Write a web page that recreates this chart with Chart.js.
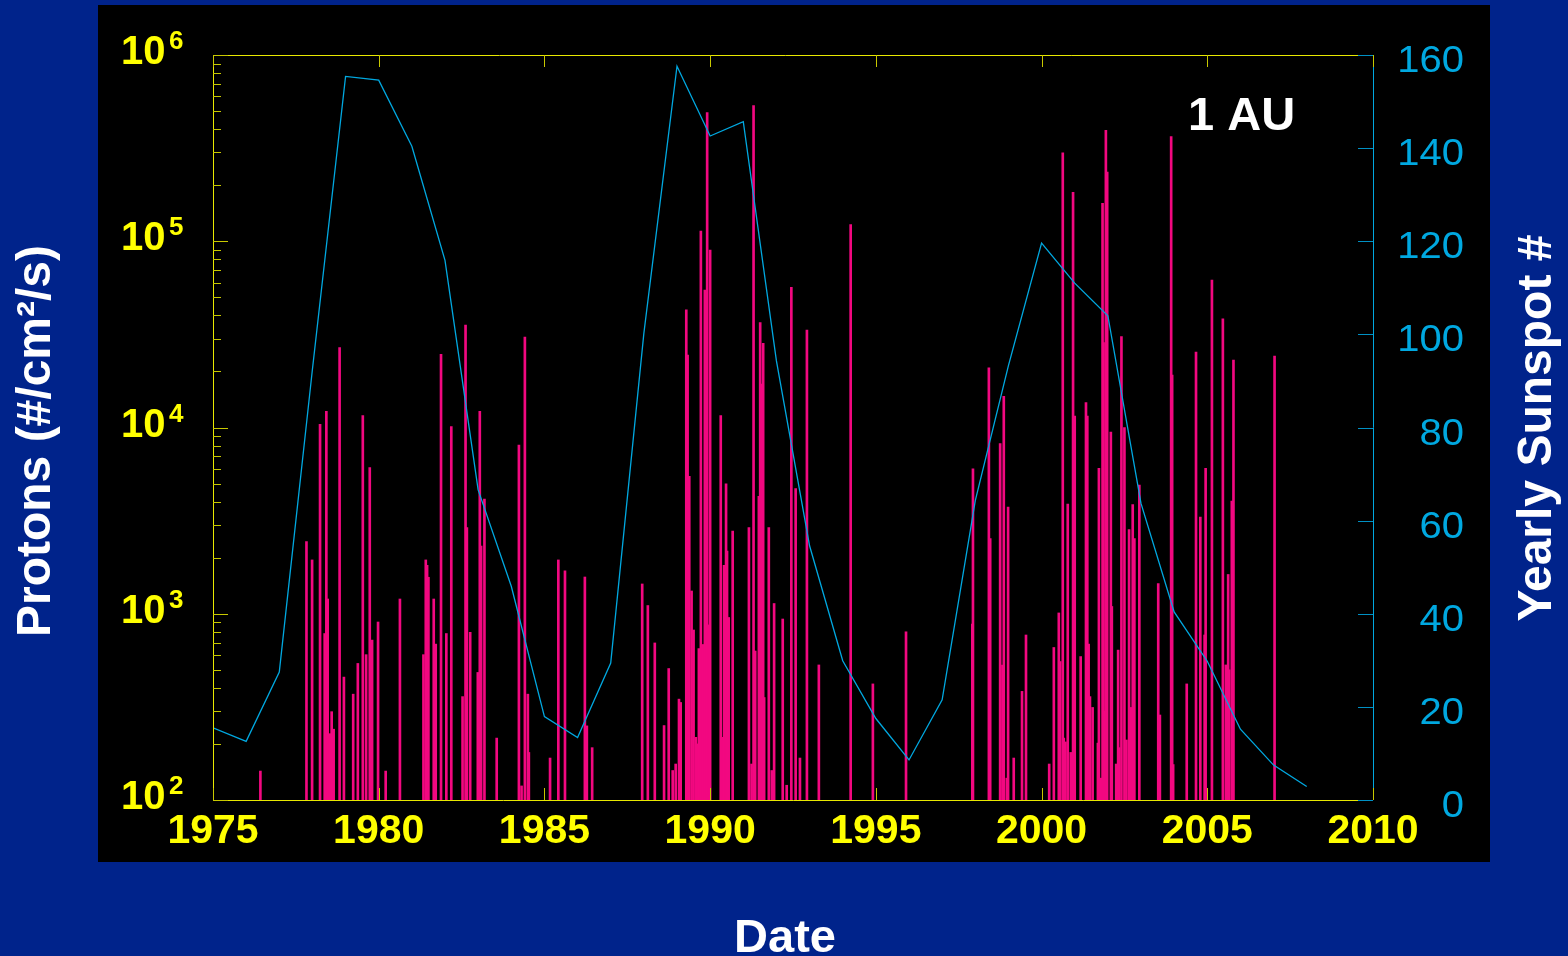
<!DOCTYPE html>
<html>
<head>
<meta charset="utf-8">
<title>Protons and yearly sunspot number at 1 AU</title>
<script src="https://cdn.jsdelivr.net/npm/chart.js@4.4.0/dist/chart.umd.min.js"></script>
<style>
  html, body { margin: 0; padding: 0; background: #00238b; }
  canvas { display: block; }
</style>
</head>
<body>
<canvas id="sepChart" width="1568" height="956"></canvas>
<script>
// axis ticks
const yearTicks = [1975, 1980, 1985, 1990, 1995, 2000, 2005, 2010];
const fluxDecades = [2, 3, 4, 5, 6];
const sunspotTicks = [0, 20, 40, 60, 80, 100, 120, 140, 160];

// yearly sunspot number (cyan line)
const sunspotYears = [1975, 1976, 1977, 1978, 1979, 1980, 1981, 1982, 1983, 1984,
    1985, 1986, 1987, 1988, 1989, 1990, 1991, 1992, 1993, 1994,
    1995, 1996, 1997, 1998, 1999, 2000, 2001, 2002, 2003, 2004,
    2005, 2006, 2007, 2008];
const sunspotNumbers = [15.5, 12.6, 27.5, 92.5, 155.4, 154.6, 140.4, 115.9, 66.6, 45.9,
    17.9, 13.4, 29.4, 100.2, 157.6, 142.6, 145.7, 94.3, 54.6, 29.9,
    17.5, 8.6, 21.5, 64.3, 93.3, 119.6, 111.0, 104.0, 63.7, 40.4,
    29.8, 15.2, 7.5, 2.9];

// proton events (pink spikes): date and peak flux
const eventDates = [1976.43, 1977.82, 1977.99, 1978.23, 1978.37, 1978.42, 1978.46, 1978.52, 1978.58, 1978.64,
    1978.82, 1978.95, 1979.23, 1979.37, 1979.52, 1979.62, 1979.73, 1979.80, 1979.98, 1980.21,
    1980.64, 1981.35, 1981.42, 1981.46, 1981.50, 1981.66, 1981.72, 1981.88, 1982.04, 1982.19,
    1982.53, 1982.62, 1982.66, 1982.76, 1982.99, 1983.05, 1983.09, 1983.19, 1983.56, 1984.23,
    1984.31, 1984.41, 1984.50, 1984.53, 1985.17, 1985.42, 1985.62, 1986.22, 1986.28, 1986.44,
    1987.95, 1988.12, 1988.33, 1988.61, 1988.75, 1988.87, 1988.96, 1989.06, 1989.11, 1989.28,
    1989.32, 1989.37, 1989.44, 1989.50, 1989.57, 1989.61, 1989.66, 1989.72, 1989.78, 1989.84,
    1989.91, 1989.96, 1990.00, 1990.32, 1990.37, 1990.42, 1990.48, 1990.51, 1990.56, 1990.68,
    1991.17, 1991.25, 1991.31, 1991.36, 1991.47, 1991.51, 1991.56, 1991.60, 1991.63, 1991.77,
    1991.86, 1991.93, 1992.19, 1992.31, 1992.45, 1992.58, 1992.71, 1992.92, 1993.28, 1994.24,
    1994.91, 1995.91, 1997.91, 1997.93, 1998.41, 1998.45, 1998.75, 1998.82, 1998.86, 1998.95,
    1998.99, 1999.16, 1999.41, 1999.53, 2000.23, 2000.37, 2000.52, 2000.56, 2000.64, 2000.67,
    2000.72, 2000.79, 2000.88, 2000.95, 2001.00, 2001.18, 2001.34, 2001.38, 2001.42, 2001.46,
    2001.54, 2001.70, 2001.73, 2001.80, 2001.84, 2001.87, 2001.90, 2001.94, 2001.98, 2002.09,
    2002.12, 2002.25, 2002.31, 2002.34, 2002.41, 2002.50, 2002.56, 2002.64, 2002.70, 2002.75,
    2002.80, 2002.95, 2003.52, 2003.57, 2003.91, 2003.94, 2003.97, 2004.38, 2004.66, 2004.79,
    2004.92, 2004.95, 2005.14, 2005.47, 2005.56, 2005.63, 2005.66, 2005.74, 2005.79, 2007.03];
const eventFlux = [143, 2440, 1945, 10400, 783, 12200, 1200, 227, 298, 240,
    26900, 457, 370, 541, 11600, 603, 6100, 722, 903, 143,
    1200, 603, 1945, 1820, 1570, 1200, 687, 24700, 783, 10100,
    359, 35500, 2900, 795, 484, 12200, 2310, 4130, 215, 8050,
    119, 30600, 370, 180, 168, 1945, 1700, 1575, 250, 191,
    1445, 1107, 697, 251, 508, 144, 156, 348, 334, 42800,
    24500, 5460, 1325, 818, 217, 200, 650, 113500, 684, 54700,
    491000, 871, 89700, 11600, 217, 1820, 4980, 2170, 955, 2780,
    2900, 156, 535000, 631, 4270, 36600, 17100, 28300, 355, 2900,
    144, 1135, 937, 120, 56500, 4700, 168, 33300, 531, 123000,
    420, 800, 880, 5990, 20900, 2530, 8200, 530, 14700, 131,
    3740, 168, 383, 769, 156, 659, 1010, 554, 298000, 215,
    205, 3880, 180, 183000, 11500, 589, 13600, 11500, 687, 359,
    314, 202, 6030, 131, 160000, 28600, 300, 394000, 235000, 9460,
    1094, 156, 638, 191, 30800, 10000, 210, 2830, 314, 3860,
    2530, 4910, 1452, 286, 365000, 19100, 155, 420, 25400, 3300,
    769, 6030, 61900, 38300, 531, 1625, 500, 4030, 23000, 24200];

const FONT = '"Liberation Sans", Arial, Helvetica, sans-serif';
const YELLOW = '#ffff00';
const CYAN = '#00a8e0';

// background, panel, axes frame, ticks and all labels
const slideDecor = {
    id: 'slideDecor',
    beforeDraw(chart) {
        const ctx = chart.ctx;
        ctx.save();
        ctx.fillStyle = '#00238b';
        ctx.fillRect(0, 0, chart.width, chart.height);
        ctx.fillStyle = '#000000';
        ctx.fillRect(98, 5, 1392, 857);
        ctx.restore();
    },
    afterDraw(chart) {
        const {ctx, chartArea: a} = chart;
        const {x, y, y2} = chart.scales;
        ctx.save();
        ctx.lineWidth = 1;

        // frame
        ctx.strokeStyle = '#e8e800';
        ctx.beginPath();
        ctx.moveTo(a.right - 15, a.top + 0.5);
        ctx.lineTo(a.left + 0.5, a.top + 0.5);
        ctx.lineTo(a.left + 0.5, a.bottom + 0.5);
        ctx.lineTo(a.right, a.bottom + 0.5);
        ctx.stroke();
        ctx.strokeStyle = CYAN;
        ctx.beginPath();
        ctx.moveTo(a.right - 15, a.top + 0.5);
        ctx.lineTo(a.right + 0.5, a.top + 0.5);
        ctx.lineTo(a.right + 0.5, a.bottom);
        ctx.stroke();

        // year ticks, top and bottom
        ctx.strokeStyle = '#c8c800';
        ctx.beginPath();
        yearTicks.forEach(t => {
            const px = Math.round(x.getPixelForValue(t)) + 0.5;
            ctx.moveTo(px, a.bottom);
            ctx.lineTo(px, a.bottom - 12);
            ctx.moveTo(px, a.top);
            ctx.lineTo(px, a.top + 12);
        });
        ctx.stroke();

        // log ticks
        ctx.beginPath();
        fluxDecades.forEach((d, i) => {
            const py = Math.round(y.getPixelForValue(Math.pow(10, d))) + 0.5;
            ctx.moveTo(a.left, py);
            ctx.lineTo(a.left + 15, py);
            if (i < fluxDecades.length - 1) {
                for (let m = 2; m <= 9; m++) {
                    const pm = Math.round(y.getPixelForValue(m * Math.pow(10, d))) + 0.5;
                    ctx.moveTo(a.left, pm);
                    ctx.lineTo(a.left + 8, pm);
                }
            }
        });
        ctx.stroke();

        // sunspot ticks
        ctx.strokeStyle = '#0090c4';
        ctx.beginPath();
        sunspotTicks.forEach(t => {
            const py = Math.round(y2.getPixelForValue(t)) + 0.5;
            ctx.moveTo(a.right, py);
            ctx.lineTo(a.right - 15, py);
        });
        ctx.stroke();

        // year labels
        ctx.fillStyle = YELLOW;
        ctx.font = 'bold 41px ' + FONT;
        ctx.textAlign = 'center';
        ctx.textBaseline = 'middle';
        yearTicks.forEach(t => {
            ctx.fillText(String(t), x.getPixelForValue(t), 832);
        });

        // flux labels 10^n
        ctx.textAlign = 'left';
        ctx.textBaseline = 'alphabetic';
        fluxDecades.forEach(d => {
            const py = y.getPixelForValue(Math.pow(10, d));
            ctx.font = 'bold 40px ' + FONT;
            ctx.fillText('10', 121, py + 9);
            ctx.font = 'bold 26px ' + FONT;
            ctx.fillText(String(d), 169, py - 6);
        });

        // sunspot labels (slightly wide face, right aligned)
        ctx.fillStyle = CYAN;
        ctx.font = '37px ' + FONT;
        ctx.textAlign = 'right';
        ctx.textBaseline = 'alphabetic';
        sunspotTicks.forEach(t => {
            ctx.save();
            ctx.translate(1464, y2.getPixelForValue(t) + 17);
            ctx.scale(1.08, 1);
            ctx.fillText(String(t), 0, 0);
            ctx.restore();
        });

        // titles
        ctx.fillStyle = '#ffffff';
        ctx.font = 'bold 48px ' + FONT;
        ctx.textAlign = 'center';
        ctx.textBaseline = 'middle';
        ctx.save();
        ctx.translate(37, 441);
        ctx.rotate(-Math.PI / 2);
        ctx.fillText('Protons (#/cm\u00B2/s)', 0, 0);
        ctx.restore();
        ctx.save();
        ctx.translate(1538, 428);
        ctx.rotate(-Math.PI / 2);
        ctx.fillText('Yearly Sunspot #', 0, 0);
        ctx.restore();
        ctx.textBaseline = 'alphabetic';
        ctx.font = 'bold 47px ' + FONT;
        ctx.fillText('Date', 785, 952);

        ctx.textAlign = 'left';
        ctx.fillText('1 AU', 1188, 130);
        ctx.restore();
    }
};

new Chart(document.getElementById('sepChart'), {
    type: 'bar',
    data: {
        datasets: [{
            type: 'line',
            label: 'Yearly Sunspot #',
            data: sunspotYears.map((yr, i) => ({x: yr, y: sunspotNumbers[i]})),
            yAxisID: 'y2',
            borderColor: CYAN,
            borderWidth: 1.3,
            pointRadius: 0,
            tension: 0,
            fill: false,
            order: 0
        }, {
            label: 'Protons',
            data: eventDates.map((d, i) => ({x: d, y: eventFlux[i]})),
            yAxisID: 'y',
            backgroundColor: '#f20880',
            borderWidth: 0,
            barThickness: 2,
            base: 100,
            order: 1
        }]
    },
    options: {
        responsive: false,
        animation: false,
        devicePixelRatio: 1,
        layout: { padding: { top: 55, left: 0, right: 0, bottom: 0 } },
        plugins: {
            legend: { display: false },
            tooltip: { enabled: false }
        },
        scales: {
            x: {
                type: 'linear',
                min: 1975,
                max: 2010,
                offset: false,
                grid: { display: false },
                border: { display: false },
                ticks: { display: false },
                afterFit(s) { s.height = 156; }
            },
            y: {
                type: 'logarithmic',
                position: 'left',
                min: 100,
                max: 1000000,
                grid: { display: false },
                border: { display: false },
                ticks: { display: false },
                afterFit(s) { s.width = 213; }
            },
            y2: {
                type: 'linear',
                position: 'right',
                min: 0,
                max: 160,
                grid: { display: false },
                border: { display: false },
                ticks: { display: false },
                afterFit(s) { s.width = 195; }
            }
        }
    },
    plugins: [slideDecor]
});
</script>
</body>
</html>
